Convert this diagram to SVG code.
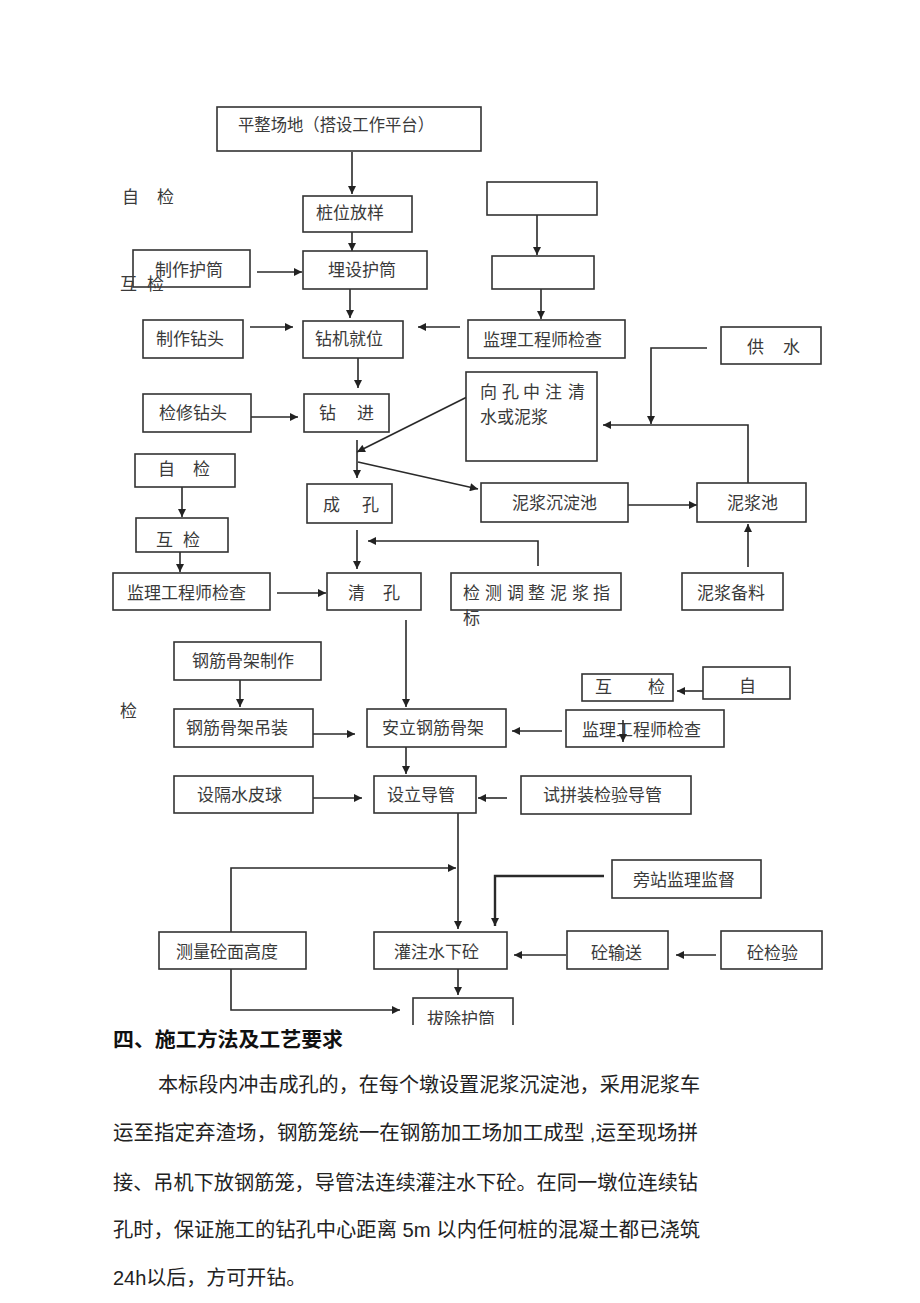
<svg xmlns="http://www.w3.org/2000/svg" width="920" height="1303" viewBox="0 0 920 1303">
<style>
.box{fill:#fff;stroke:#333;stroke-width:1.6}
.t{font-family:"Noto Sans CJK SC","Noto Sans CJK JP",sans-serif;font-size:17px;fill:#3a3a3a}
.c{fill:none;stroke:#2a2a2a;stroke-width:1.6}
.p{font-family:"Liberation Sans","Noto Sans CJK SC",sans-serif;font-size:20px;fill:#222}
.h{font-family:"Noto Sans CJK SC",sans-serif;font-size:20px;font-weight:bold;fill:#111}
</style>
<defs>
<marker id="a" viewBox="0 0 10 10" refX="10" refY="5" markerWidth="9" markerHeight="8" markerUnits="userSpaceOnUse" orient="auto"><path d="M0,0 L10,5 L0,10 z" fill="#222"/></marker>
<clipPath id="clip"><rect x="0" y="0" width="920" height="1025"/></clipPath>
</defs>
<rect width="920" height="1303" fill="#fff"/>

<g id="connectors">
<path class="c" d="M352,152 V194" marker-end="url(#a)"/>
<path class="c" d="M352,232 V251" marker-end="url(#a)"/>
<path class="c" d="M257,272 H302" marker-end="url(#a)"/>
<path class="c" d="M537,215 V255" marker-end="url(#a)"/>
<path class="c" d="M541,289 V319" marker-end="url(#a)"/>
<path class="c" d="M250,327 H293" marker-end="url(#a)"/>
<path class="c" d="M460,327 H418" marker-end="url(#a)"/>
<path class="c" d="M350,289 V318" marker-end="url(#a)"/>
<path class="c" d="M358,358 V388" marker-end="url(#a)"/>
<path class="c" d="M251,417 H298" marker-end="url(#a)"/>
<path class="c" d="M467,397 L357,452" marker-end="url(#a)"/>
<path class="c" d="M357,440 V478" marker-end="url(#a)"/>
<path class="c" d="M358,462 L478,489" marker-end="url(#a)"/>
<path class="c" d="M628,505 H697" marker-end="url(#a)"/>
<path class="c" d="M748,483 V425 H603" marker-end="url(#a)"/>
<path class="c" d="M707,348 H651 V424" marker-end="url(#a)"/>
<path class="c" d="M748,567 V524" marker-end="url(#a)"/>
<path class="c" d="M538,566 V541 H368" marker-end="url(#a)"/>
<path class="c" d="M357,530 V569" marker-end="url(#a)"/>
<path class="c" d="M182,487 V517" marker-end="url(#a)"/>
<path class="c" d="M180,552 V572" marker-end="url(#a)"/>
<path class="c" d="M277,593 H326" marker-end="url(#a)"/>
<path class="c" d="M406,620 V707" marker-end="url(#a)"/>
<path class="c" d="M240,680 V707" marker-end="url(#a)"/>
<path class="c" d="M313,734 H355" marker-end="url(#a)"/>
<path class="c" d="M406,747 V774" marker-end="url(#a)"/>
<path class="c" d="M313,798 H362" marker-end="url(#a)"/>
<path class="c" d="M507,798 H478" marker-end="url(#a)"/>
<path class="c" d="M562,731 H512" marker-end="url(#a)"/>
<path class="c" d="M703,691 H677" marker-end="url(#a)"/>
<path class="c" d="M458,813 V929" marker-end="url(#a)"/>
<path class="c" d="M231,932 V868 H456" marker-end="url(#a)"/>
<path class="c" d="M231,969 V1010 H400" marker-end="url(#a)"/>
<path class="c" d="M604,876 H495 V926" style="stroke-width:2.4" marker-end="url(#a)"/>
<path class="c" d="M566,955 H514" marker-end="url(#a)"/>
<path class="c" d="M716,955 H676" marker-end="url(#a)"/>
<path class="c" d="M458,969 V995" marker-end="url(#a)"/>
</g>

<g id="n1"><rect class="box" x="217" y="107" width="264" height="44"/><text class="t" x="238" y="131" textLength="196" lengthAdjust="spacingAndGlyphs">平整场地（搭设工作平台）</text></g>
<g id="lbl1"><text class="t" x="122 157" y="203">自检</text></g>
<g id="n2"><rect class="box" x="303" y="196" width="109" height="36"/><text class="t" x="316" y="219">桩位放样</text></g>
<g id="n3"><rect class="box" x="487" y="182" width="110" height="33"/></g>
<g id="n4"><rect class="box" x="492" y="256" width="102" height="33"/></g>
<g id="n5"><rect class="box" x="133" y="250" width="117" height="37"/><text class="t" x="155" y="276">制作护筒</text></g>
<g id="lbl2"><text class="t" x="120 147" y="290">互检</text></g>
<g id="n6"><rect class="box" x="303" y="251" width="124" height="38"/><text class="t" x="328" y="276">埋设护筒</text></g>
<g id="n7"><rect class="box" x="468" y="320" width="157" height="38"/><text class="t" x="483" y="346">监理工程师检查</text></g>
<g id="n8"><rect class="box" x="721" y="327" width="100" height="37"/><text class="t" x="747 783" y="353">供水</text></g>
<g id="n9"><rect class="box" x="143" y="320" width="100" height="38"/><text class="t" x="156" y="345">制作钻头</text></g>
<g id="n10"><rect class="box" x="303" y="321" width="100" height="37"/><text class="t" x="315" y="345">钻机就位</text></g>
<g id="n11"><rect class="box" x="143" y="394" width="108" height="38"/><text class="t" x="159" y="419">检修钻头</text></g>
<g id="n12"><rect class="box" x="304" y="394" width="85" height="38"/><text class="t" x="319 357" y="419">钻进</text></g>
<g id="n13"><rect class="box" x="466" y="372" width="131" height="89"/><text class="t" x="480 502 523 545 568" y="398">向孔中注清</text><text class="t" x="480" y="423">水或泥浆</text></g>
<g id="n14"><rect class="box" x="481" y="483" width="147" height="39"/><text class="t" x="512" y="509">泥浆沉淀池</text></g>
<g id="n15"><rect class="box" x="697" y="483" width="109" height="39"/><text class="t" x="727" y="509">泥浆池</text></g>
<g id="n16"><rect class="box" x="135" y="454" width="100" height="33"/><text class="t" x="158 193" y="475">自检</text></g>
<g id="n17"><rect class="box" x="136" y="518" width="92" height="34"/><text class="t" x="156 183" y="546">互检</text></g>
<g id="n18"><rect class="box" x="307" y="484" width="85" height="39"/><text class="t" x="323 362" y="511">成孔</text></g>
<g id="n19"><rect class="box" x="113" y="573" width="157" height="37"/><text class="t" x="127" y="599">监理工程师检查</text></g>
<g id="n20"><rect class="box" x="327" y="573" width="94" height="37"/><text class="t" x="348 383" y="599">清孔</text></g>
<g id="n21"><rect class="box" x="451" y="573" width="170" height="37"/><text class="t" x="463 485 507 528 550 572 593" y="599">检测调整泥浆指</text><text class="t" x="463" y="624">标</text></g>
<g id="n22"><rect class="box" x="682" y="573" width="101" height="37"/><text class="t" x="697" y="599">泥浆备料</text></g>
<g id="n23"><rect class="box" x="174" y="642" width="147" height="38"/><text class="t" x="192" y="667">钢筋骨架制作</text></g>
<g id="lbl3"><text class="t" x="120" y="717">检</text></g>
<g id="n24"><rect class="box" x="174" y="709" width="139" height="38"/><text class="t" x="186" y="734">钢筋骨架吊装</text></g>
<g id="n25"><rect class="box" x="367" y="709" width="139" height="38"/><text class="t" x="382" y="734">安立钢筋骨架</text></g>
<g id="n26"><rect class="box" x="582" y="674" width="91" height="27"/><text class="t" x="595 648" y="693">互检</text></g>
<g id="n27"><rect class="box" x="703" y="667" width="87" height="32"/><text class="t" x="739" y="692">自</text></g>
<g id="n28"><rect class="box" x="566" y="710" width="158" height="37"/><text class="t" x="582" y="736">监理工程师检查</text><path class="c" d="M623,720 V742" marker-end="url(#a)"/></g>
<g id="n29"><rect class="box" x="174" y="776" width="139" height="37"/><text class="t" x="197" y="801">设隔水皮球</text></g>
<g id="n30"><rect class="box" x="374" y="776" width="102" height="37"/><text class="t" x="387" y="801">设立导管</text></g>
<g id="n31"><rect class="box" x="521" y="776" width="170" height="38"/><text class="t" x="543" y="801">试拼装检验导管</text></g>
<g id="n32"><rect class="box" x="612" y="860" width="149" height="38"/><text class="t" x="633" y="886">旁站监理监督</text></g>
<g id="n33"><rect class="box" x="159" y="932" width="147" height="37"/><text class="t" x="176" y="958">测量砼面高度</text></g>
<g id="n34"><rect class="box" x="374" y="932" width="133" height="37"/><text class="t" x="394" y="958">灌注水下砼</text></g>
<g id="n35"><rect class="box" x="567" y="931" width="101" height="38"/><text class="t" x="591" y="959">砼输送</text></g>
<g id="n36"><rect class="box" x="721" y="931" width="101" height="38"/><text class="t" x="747" y="959">砼检验</text></g>
<g id="n37" clip-path="url(#clip)"><rect class="box" x="413" y="998" width="100" height="40"/><text class="t" x="427" y="1025">拔除护筒</text></g>

<g id="body">
<text class="h" x="113" y="1047" textLength="230" lengthAdjust="spacingAndGlyphs">四、施工方法及工艺要求</text>
<text class="p" x="158" y="1092" textLength="542" lengthAdjust="spacingAndGlyphs">本标段内冲击成孔的，在每个墩设置泥浆沉淀池，采用泥浆车</text>
<text class="p" x="113" y="1140" textLength="585" lengthAdjust="spacingAndGlyphs">运至指定弃渣场，钢筋笼统一在钢筋加工场加工成型 ,运至现场拼</text>
<text class="p" x="113" y="1190" textLength="585" lengthAdjust="spacingAndGlyphs">接、吊机下放钢筋笼，导管法连续灌注水下砼。在同一墩位连续钻</text>
<text class="p" x="113" y="1237" textLength="587" lengthAdjust="spacingAndGlyphs">孔时，保证施工的钻孔中心距离 5m 以内任何桩的混凝土都已浇筑</text>
<text class="p" x="113" y="1285">24h以后，方可开钻。</text>
</g>
</svg>
